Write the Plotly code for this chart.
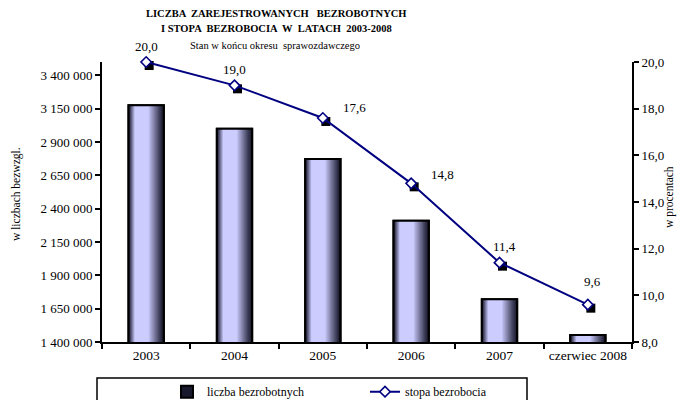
import plotly.graph_objects as go

# ---------------- data ----------------
categories = ["2003", "2004", "2005", "2006", "2007", "czerwiec 2008"]
unemployed = [3175700, 2999600, 2773000, 2309400, 1720000, 1452600]
rate = [20.0, 19.0, 17.6, 14.8, 11.4, 9.6]
rate_labels = ["20,0", "19,0", "17,6", "14,8", "11,4", "9,6"]

left_tick_vals = [1400000, 1650000, 1900000, 2150000, 2400000, 2650000, 2900000, 3150000, 3400000]
left_tick_text = ["1 400 000", "1 650 000", "1 900 000", "2 150 000", "2 400 000",
                  "2 650 000", "2 900 000", "3 150 000", "3 400 000"]
right_tick_vals = [8, 10, 12, 14, 16, 18, 20]
right_tick_text = ["8,0", "10,0", "12,0", "14,0", "16,0", "18,0", "20,0"]

# label offsets in pixels (style only)
label_dx = [0, 0, 32, 31, 5, 5]
label_dy = [16, 16, 11, 9, 16, 23]

# ---------------- layout constants ----------------
W, H = 678, 400
ML, MR, MT, MB = 102, 46, 62, 58
PW, PH = W - ML - MR, H - MT - MB
FONT = "Liberation Serif"


def px_x(p):
    return (p - ML) / PW


def px_y(p):
    return (H - MB - p) / PH


fig = go.Figure()

# cylinder-like bars: layered overlay bars
N = 14
dark = (25, 25, 45)
light = (204, 204, 255)
for k in range(N):
    t = k / (N - 1)
    left = -0.2 + t * 0.07
    right = 0.2 - t * 0.17
    f = t ** 1.1
    col = "rgb(%d,%d,%d)" % tuple(int(d + (l - d) * f) for d, l in zip(dark, light))
    fig.add_trace(go.Bar(
        x=categories, y=unemployed, width=right - left, offset=left,
        marker=dict(color=col, line=dict(width=2 if k == 0 else 0, color="black")),
        name="liczba bezrobotnych", showlegend=(k == 0), legendrank=1,
        xaxis="x", yaxis="y", hoverinfo="skip" if k else None,
    ))
# outline on top
fig.add_trace(go.Bar(
    x=categories, y=unemployed, width=0.4, offset=-0.2,
    marker=dict(color="rgba(0,0,0,0)", line=dict(width=2, color="black")),
    showlegend=False, xaxis="x", yaxis="y", hoverinfo="skip",
))

# shadow squares (shifted overlay axes)
fig.add_trace(go.Scatter(
    x=categories, y=rate, mode="markers", xaxis="x2", yaxis="y2",
    marker=dict(symbol="square", color="black", size=9),
    showlegend=False, cliponaxis=False, hoverinfo="skip",
))

# rate line
fig.add_trace(go.Scatter(
    x=categories, y=rate, mode="lines+markers", xaxis="x3", yaxis="y3",
    name="stopa bezrobocia", legendrank=2,
    line=dict(color="#000080", width=2),
    marker=dict(symbol="diamond", color="white", size=8,
                line=dict(color="#000080", width=1.6)),
    cliponaxis=False,
))

annotations = []
for i, (v, lab, dx, dy) in enumerate(zip(rate, rate_labels, label_dx, label_dy)):
    annotations.append(dict(x=i, y=v, xref="x3", yref="y3", text=lab, showarrow=False,
                            xanchor="center", yanchor="middle",
                            xshift=dx, yshift=dy, font=dict(family=FONT, size=13, color="black")))

annotations += [
    dict(x=px_x(276), y=px_y(14), xref="paper", yref="paper", showarrow=False,
         xanchor="center", yanchor="middle",
         text="<b>LICZBA  ZAREJESTROWANYCH   BEZROBOTNYCH</b>",
         font=dict(family=FONT, size=10.5, color="black")),
    dict(x=px_x(276), y=px_y(29), xref="paper", yref="paper", showarrow=False,
         xanchor="center", yanchor="middle",
         text="<b>I STOPA  BEZROBOCIA  W  LATACH  2003-2008</b>",
         font=dict(family=FONT, size=10.5, color="black")),
    dict(x=px_x(275), y=px_y(45), xref="paper", yref="paper", showarrow=False,
         xanchor="center", yanchor="middle",
         text="Stan w końcu okresu  sprawozdawczego",
         font=dict(family=FONT, size=10.5, color="black")),
    dict(x=px_x(16), y=px_y(194), xref="paper", yref="paper", showarrow=False,
         xanchor="center", yanchor="middle",
         text="w liczbach bezwzgl.", textangle=-90,
         font=dict(family=FONT, size=11.5, color="black")),
    dict(x=px_x(669), y=px_y(197), xref="paper", yref="paper", showarrow=False,
         xanchor="center", yanchor="middle",
         text="w procentach", textangle=-90,
         font=dict(family=FONT, size=11.5, color="black")),
]

shift_x = 3 / (PW / 6)
shift_y = 3.5 / (PH / 12)

fig.update_layout(
    width=W, height=H,
    margin=dict(l=ML, r=MR, t=MT, b=MB, autoexpand=False),
    paper_bgcolor="white", plot_bgcolor="white",
    barmode="overlay",
    font=dict(family=FONT, size=12, color="black"),
    xaxis=dict(type="category", categoryarray=categories, range=[-0.5, 5.5],
               tickson="boundaries", ticks="outside", ticklen=5, tickwidth=2,
               tickcolor="black", showline=True, linecolor="black", linewidth=2,
               showgrid=False, tickangle=0, tickfont=dict(family=FONT, size=13.5),
               fixedrange=True),
    xaxis2=dict(type="category", categoryarray=categories, overlaying="x",
                range=[-0.5 - shift_x, 5.5 - shift_x], visible=False),
    xaxis3=dict(type="category", categoryarray=categories, overlaying="x",
                range=[-0.5, 5.5], visible=False),
    yaxis=dict(range=[1400000, 3500000], tickvals=left_tick_vals, ticktext=left_tick_text,
               ticks="outside", ticklen=5, tickwidth=2, tickcolor="black",
               showline=True, linecolor="black", linewidth=2, showgrid=False,
               zeroline=False, tickfont=dict(family=FONT, size=13)),
    yaxis2=dict(range=[8 + shift_y, 20 + shift_y], overlaying="y", visible=False),
    yaxis3=dict(range=[8, 20], overlaying="y", side="right",
                tickvals=right_tick_vals, ticktext=right_tick_text,
                ticks="outside", ticklen=5, tickwidth=2, tickcolor="black",
                showline=True, linecolor="black", linewidth=2, showgrid=False,
                zeroline=False, tickfont=dict(family=FONT, size=13)),
    legend=dict(orientation="h", x=px_x(167), xanchor="left", y=px_y(391.7), yanchor="middle",
                font=dict(family=FONT, size=12, color="black"), entrywidth=153,
                bgcolor="rgba(0,0,0,0)", borderwidth=0, traceorder="normal"),
    shapes=[dict(type="rect", xref="paper", yref="paper",
                 x0=px_x(97), x1=px_x(527), y0=px_y(378), y1=px_y(420),
                 line=dict(color="black", width=1.5), fillcolor="rgba(0,0,0,0)")],
    annotations=annotations,
    showlegend=True,
)

fig.write_html("out.html", config={"displayModeBar": False},
               post_script="document.body.style.margin='0px';")
